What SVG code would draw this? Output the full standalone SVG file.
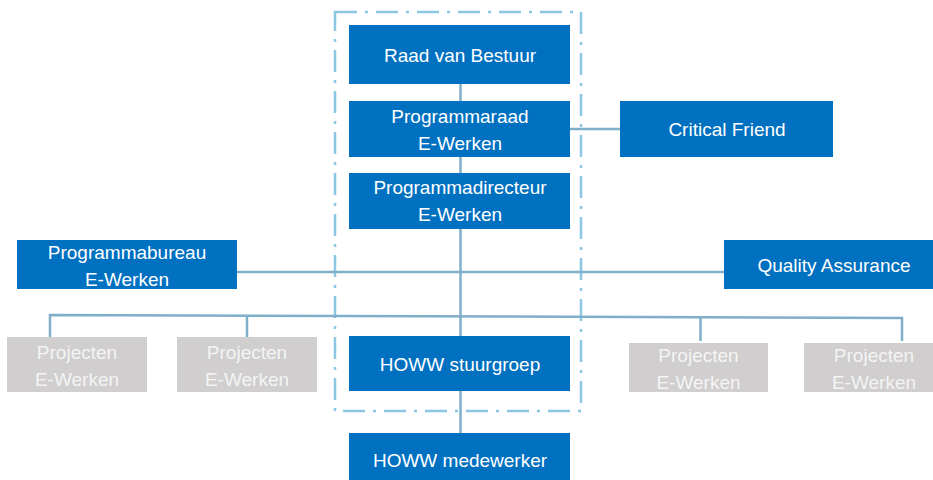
<svg xmlns="http://www.w3.org/2000/svg" width="933" height="480" viewBox="0 0 933 480">
<style>
.b{fill:#0070C0}
.g{fill:#D0CECE}
.t{font-family:"Liberation Sans",Arial,sans-serif;font-size:19px;fill:#FFFFFF;text-anchor:middle;dominant-baseline:central}
.tg{font-family:"Liberation Sans",Arial,sans-serif;font-size:19px;fill:#F4F4F4;text-anchor:middle;dominant-baseline:central}
.c{stroke:#7FAFC9;stroke-width:2.5;fill:none}
.f{stroke:#8CC6E2;stroke-width:2.5;fill:none;stroke-dasharray:22 8 3 8}
</style>
<rect width="933" height="480" fill="#FFFFFF"/>
<rect class="f" x="335" y="12" width="246" height="399"/>
<g id="connectors">
<line class="c" x1="460.5" y1="84" x2="460.5" y2="433"/>
<line class="c" x1="570" y1="129" x2="620" y2="129"/>
<line class="c" x1="237" y1="272" x2="724" y2="272"/>
<polyline class="c" points="50,337 50,315 902,318 902,341"/>
<line class="c" x1="247" y1="315" x2="247" y2="337"/>
<line class="c" x1="700.5" y1="318" x2="700.5" y2="341"/>
</g>
<g id="raad"><rect class="b" x="349" y="25" width="221" height="59"/><text class="t" x="460" y="55">Raad van Bestuur</text></g>
<g id="programmaraad"><rect class="b" x="349" y="101" width="221" height="56"/><text class="t" x="460" y="116">Programmaraad</text><text class="t" x="460" y="143">E-Werken</text></g>
<g id="programmadirecteur"><rect class="b" x="349" y="173" width="221" height="56"/><text class="t" x="460" y="187">Programmadirecteur</text><text class="t" x="460" y="214">E-Werken</text></g>
<g id="criticalfriend"><rect class="b" x="620" y="101" width="213" height="56"/><text class="t" x="727" y="129">Critical Friend</text></g>
<g id="programmabureau"><rect class="b" x="17" y="240" width="220" height="49"/><text class="t" x="127" y="252">Programmabureau</text><text class="t" x="127" y="279">E-Werken</text></g>
<g id="qa"><rect class="b" x="724" y="240" width="219" height="49"/><text class="t" x="834" y="265">Quality Assurance</text></g>
<g id="proj1"><rect class="g" x="7" y="337" width="140" height="55"/><text class="tg" x="77" y="352">Projecten</text><text class="tg" x="77" y="379">E-Werken</text></g>
<g id="proj2"><rect class="g" x="177" y="337" width="140" height="55"/><text class="tg" x="247" y="352">Projecten</text><text class="tg" x="247" y="379">E-Werken</text></g>
<g id="proj3"><rect class="g" x="629" y="343" width="139" height="49"/><text class="tg" x="698.5" y="355">Projecten</text><text class="tg" x="698.5" y="382">E-Werken</text></g>
<g id="proj4"><rect class="g" x="804" y="343" width="140" height="49"/><text class="tg" x="874" y="355">Projecten</text><text class="tg" x="874" y="382">E-Werken</text></g>
<g id="stuurgroep"><rect class="b" x="349" y="336" width="221" height="55"/><text class="t" x="460" y="364">HOWW stuurgroep</text></g>
<g id="medewerker"><rect class="b" x="349" y="433" width="221" height="47"/><text class="t" x="460" y="460">HOWW medewerker</text></g>
</svg>
